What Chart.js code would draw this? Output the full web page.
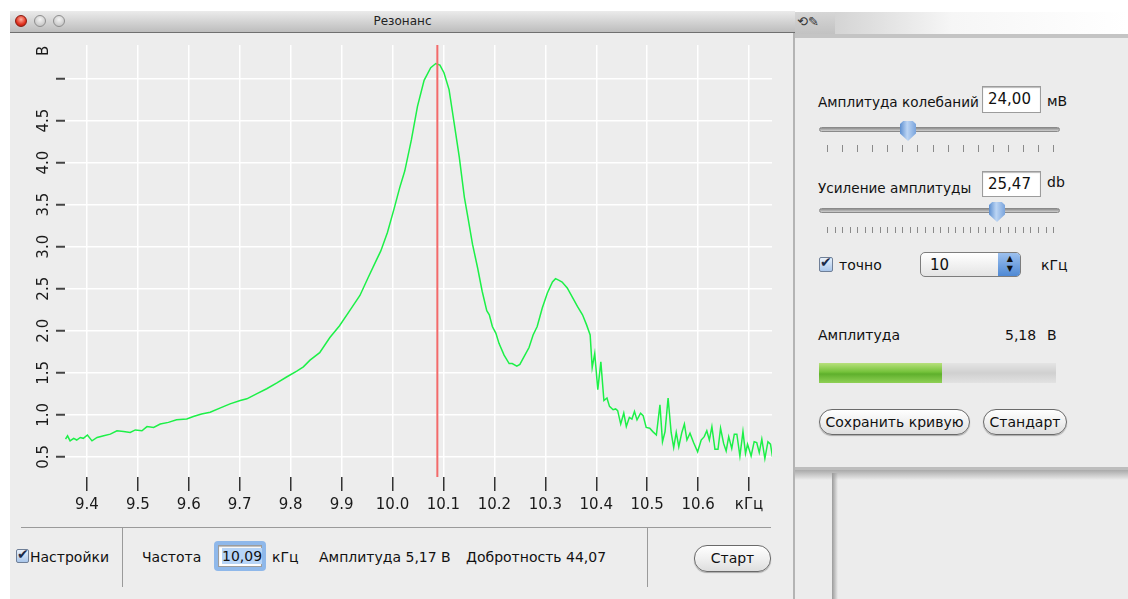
<!DOCTYPE html>
<html>
<head>
<meta charset="utf-8">
<script src="https://cdn.jsdelivr.net/npm/chart.js@4.4.0/dist/chart.umd.min.js"></script>
<style>
  body { margin: 0; width: 1128px; height: 599px; background: #fff; position: relative; overflow: hidden;
         font-family: "DejaVu Sans", sans-serif; font-size: 14px; color: #111; }
  .a { position: absolute; }
  .t { position: absolute; white-space: nowrap; line-height: 16px; }
  #win { left: 10px; top: 11px; width: 783px; height: 588px; background: #ededed; border-right: 2px solid #b4b4b4; }
  #titlebar { left: 10px; top: 11px; width: 785px; height: 21px; background: linear-gradient(#ebebeb, #bdbdbd);
              border-bottom: 1px solid #707070; text-align: center; font-size: 12px; line-height: 21px; color: #222; }
  .light { width: 12px; height: 12px; border-radius: 50%; top: 15px;
           background: radial-gradient(circle at 50% 35%, #f4f4f4, #b9b9b9); border: 1px solid #8e8e8e; box-sizing: border-box; }
  .light.red { background: radial-gradient(circle at 50% 35%, #ffb0a0, #e0301e 60%, #a01808); border-color: #8a1a10; }
  canvas { position: absolute; left: 10px; top: 33px; }
  .line { background: #9a9a9a; }
  .chk { width: 13px; height: 14px; border: 1px solid #6f7f97; border-radius: 2px; box-sizing: border-box;
         background: linear-gradient(#e9f1fb, #a9c6ea); }
  .chk::after { content: "\2714"; position: absolute; left: 0px; top: -4px; font-size: 14px; color: #1b2a48; }
  .field { background: #fff; border: 1px solid #9c9c9c; box-sizing: border-box; box-shadow: inset 0 1px 1px #bbb;
           font-size: 15px; line-height: 24px; padding-left: 5px; }
  .btn { box-sizing: border-box; border: 1px solid #6a6a6a; border-radius: 13px; background: linear-gradient(#ffffff, #f0f0f0 50%, #dedede);
         text-align: center; font-size: 14px; line-height: 24px; box-shadow: 0 1px 1px #aaa; }
  .track { height: 5px; border-radius: 3px; background: linear-gradient(#8f8f8f, #cfcfcf); border: 1px solid #8a8a8a; box-sizing: border-box; }
  .knob { width: 16px; height: 20px; background: linear-gradient(90deg, #5d8fd0, #bcd5f4 45%, #7aa4dc);
          clip-path: polygon(20% 0, 80% 0, 100% 15%, 100% 62%, 50% 100%, 0 62%, 0 15%); }
  .tick { width: 1px; background: #8a8a8a; }
  .panel { font-size: 13.6px; }
</style>
</head>
<body>
<div id="win" class="a"></div>
<div id="titlebar" class="a">Резонанс</div>
<div class="a light red" style="left:15px"></div>
<div class="a light" style="left:34px"></div>
<div class="a light" style="left:53px"></div>

<canvas id="chart" width="785" height="494"></canvas>

<!-- bottom bar -->
<div class="a line" style="left:21px; top:527px; width:750px; height:1px"></div>
<div class="a line" style="left:122px; top:527px; width:1px; height:60px"></div>
<div class="a line" style="left:647px; top:527px; width:1px; height:60px"></div>
<div class="a chk" style="left:16px; top:549px"></div>
<div class="t" style="left:30px; top:549px">Настройки</div>
<div class="t" style="left:142px; top:549px">Частота</div>
<div class="a" style="left:214px; top:541px; width:52px; height:30px; border-radius:4px; background:#8fb8ea"></div>
<div class="a field" style="left:218px; top:545px; width:44px; height:22px; padding-left:3px; line-height:20px; font-size:14px">
  <span style="background:#b7d4f6">10,09</span></div>
<div class="t" style="left:272px; top:549px">кГц</div>
<div class="t" style="left:319px; top:549px">Амплитуда 5,17 В</div>
<div class="t" style="left:466px; top:549px">Добротность 44,07</div>
<div class="a btn" style="left:694px; top:545px; width:77px; height:27px">Старт</div>

<!-- right panel -->
<div class="a" style="left:795px; top:12px; width:40px; height:22px; background:linear-gradient(#d6d6d6,#c2c2c2)"></div>
<div class="t" style="left:797px; top:14px; font-size:13px; color:#333">&#10226;&#9998;</div>
<div class="a" style="left:835px; top:12px; width:293px; height:22px; background:linear-gradient(90deg,#d4d4d4,#f6f6f6 40%,#ffffff)"></div>
<div class="a" style="left:795px; top:34px; width:333px; height:436px; background:#ececec; border-top:4px solid #c4c4c4; border-bottom:3px solid #bdbdbd; box-sizing:border-box"></div>
<div class="a" style="left:795px; top:470px; width:333px; height:129px; background:#ececec"></div>
<div class="a" style="left:795px; top:470px; width:333px; height:10px; background:linear-gradient(#a9a9a9,rgba(236,236,236,0))"></div>
<div class="a" style="left:832px; top:473px; width:6px; height:126px; background:linear-gradient(90deg,#9a9a9a,rgba(236,236,236,0))"></div>

<div class="t panel" style="left:818px; top:94px">Амплитуда колебаний</div>
<div class="a field" style="left:982px; top:86px; width:59px; height:27px">24,00</div>
<div class="t" style="left:1047px; top:93px">мВ</div>
<div class="a track" style="left:819px; top:127px; width:241px"></div>
<div class="a knob" style="left:900px; top:121px"></div>
<div id="ticks1"></div>

<div class="t panel" style="left:818px; top:180px">Усиление амплитуды</div>
<div class="a field" style="left:982px; top:171px; width:59px; height:26px">25,47</div>
<div class="t" style="left:1047px; top:174px">db</div>
<div class="a track" style="left:819px; top:208px; width:241px"></div>
<div class="a knob" style="left:989px; top:202px"></div>
<div id="ticks2"></div>

<div class="a chk" style="left:819px; top:257px; width:14px; height:15px"></div>
<div class="t" style="left:839px; top:257px">точно</div>
<div class="a" style="left:920px; top:252px; width:101px; height:25px; box-sizing:border-box; border:1px solid #7d7d7d; border-radius:5px;
     background:linear-gradient(#ffffff,#e4e4e4); overflow:hidden">
  <div class="t" style="left:9px; top:4px; font-size:15px">10</div>
  <div class="a" style="right:0; top:0; width:22px; height:23px; background:linear-gradient(#9cc0ee,#4f89d4)"></div>
  <div class="t" style="right:7px; top:1px; font-size:8px; line-height:10px; color:#111">&#9650;<br>&#9660;</div>
</div>
<div class="t" style="left:1041px; top:257px">кГц</div>

<div class="t" style="left:818px; top:327px">Амплитуда</div>
<div class="t" style="left:1005px; top:327px">5,18</div>
<div class="t" style="left:1047px; top:327px">В</div>
<div class="a" style="left:819px; top:363px; width:237px; height:20px; background:linear-gradient(#e4e4e4,#d0d0d0 50%,#e2e2e2)"></div>
<div class="a" style="left:819px; top:363px; width:123px; height:20px; background:linear-gradient(#b8e07c,#74c23a 45%,#5fb02c 55%,#8fd055)"></div>
<div class="a btn" style="left:819px; top:409px; width:151px; height:26px">Сохранить кривую</div>
<div class="a btn" style="left:983px; top:409px; width:84px; height:26px">Стандарт</div>

<script>
// measured curve: frequency (kHz) and amplitude (V)
const freqs = [
  9.358, 9.362, 9.367, 9.374, 9.380, 9.387, 9.393, 9.401, 9.410, 9.420,
  9.433, 9.446, 9.459, 9.472, 9.485, 9.495, 9.508, 9.518, 9.531, 9.544,
  9.560, 9.576, 9.596, 9.609, 9.625, 9.642, 9.661, 9.681, 9.701, 9.714,
  9.733, 9.753, 9.773, 9.792, 9.812, 9.825, 9.838, 9.857, 9.877, 9.896,
  9.916, 9.936, 9.952, 9.969, 9.977, 9.990, 10.003, 10.014, 10.024, 10.037,
  10.049, 10.062, 10.075, 10.085, 10.093, 10.101, 10.111, 10.121, 10.131, 10.141,
  10.148, 10.157, 10.167, 10.176, 10.185, 10.190, 10.196, 10.203, 10.209, 10.219,
  10.229, 10.235, 10.244, 10.250, 10.258, 10.268, 10.276, 10.284, 10.294, 10.304,
  10.314, 10.320, 10.327, 10.333, 10.343, 10.353, 10.363, 10.373, 10.381, 10.388,
  10.392, 10.397, 10.403, 10.409, 10.415, 10.421, 10.426, 10.433, 10.438, 10.442,
  10.448, 10.454, 10.459, 10.465, 10.470, 10.475, 10.480, 10.487, 10.492, 10.498,
  10.505, 10.511, 10.518, 10.525, 10.530, 10.535, 10.541, 10.547, 10.552, 10.557,
  10.562, 10.568, 10.573, 10.578, 10.584, 10.591, 10.599, 10.606, 10.612, 10.617,
  10.622, 10.627, 10.633, 10.639, 10.644, 10.650, 10.655, 10.660, 10.666, 10.671,
  10.676, 10.682, 10.688, 10.693, 10.697, 10.704, 10.710, 10.715, 10.720, 10.725,
  10.731, 10.737, 10.742, 10.746
];
const volts = [
  0.71, 0.75, 0.69, 0.72, 0.70, 0.73, 0.72, 0.76, 0.69, 0.73,
  0.75, 0.77, 0.81, 0.80, 0.79, 0.82, 0.81, 0.86, 0.85, 0.89,
  0.91, 0.94, 0.95, 0.98, 1.01, 1.03, 1.08, 1.13, 1.17, 1.19,
  1.25, 1.31, 1.38, 1.45, 1.52, 1.57, 1.65, 1.74, 1.92, 2.06,
  2.24, 2.42, 2.63, 2.85, 2.95, 3.17, 3.45, 3.70, 3.90, 4.27,
  4.67, 4.98, 5.13, 5.18, 5.16, 5.07, 4.87, 4.47, 4.07, 3.59,
  3.35, 3.03, 2.75, 2.47, 2.24, 2.19, 2.05, 1.97, 1.85, 1.71,
  1.61, 1.61, 1.58, 1.60, 1.69, 1.80, 1.95, 2.05, 2.27, 2.45,
  2.58, 2.62, 2.60, 2.58, 2.51, 2.40, 2.29, 2.19, 2.07, 1.95,
  1.56, 1.73, 1.30, 1.63, 1.17, 1.20, 1.10, 1.06, 1.07, 1.05,
  0.89, 1.02, 0.86, 0.97, 0.95, 1.04, 0.94, 1.02, 0.99, 0.85,
  0.84, 0.80, 0.76, 1.12, 0.68, 0.80, 1.20, 0.79, 0.61, 0.79,
  0.62, 0.79, 0.89, 0.70, 0.78, 0.67, 0.56, 0.70, 0.74, 0.81,
  0.70, 0.86, 0.59, 0.59, 0.84, 0.66, 0.57, 0.74, 0.60, 0.77,
  0.77, 0.51, 0.80, 0.54, 0.65, 0.51, 0.68, 0.67, 0.55, 0.71,
  0.48, 0.68, 0.65, 0.50
];

// selected frequency (red cursor)
const markerFreq = 10.088;

const xTickValues = [9.4, 9.5, 9.6, 9.7, 9.8, 9.9, 10.0, 10.1, 10.2, 10.3, 10.4, 10.5, 10.6, 10.7];
const xTickLabels = ['9.4', '9.5', '9.6', '9.7', '9.8', '9.9', '10.0', '10.1', '10.2', '10.3', '10.4', '10.5', '10.6', 'кГц'];
const yTickValues = [0.5, 1.0, 1.5, 2.0, 2.5, 3.0, 3.5, 4.0, 4.5, 5.0, 5.33];
const yTickLabels = ['0.5', '1.0', '1.5', '2.0', '2.5', '3.0', '3.5', '4.0', '4.5', '', 'В'];

const xMin = 9.357, xMax = 10.745;
const yMin = 0.26, yMax = 5.40;

// slider tick marks
function sliderTicks(id, count, top, h) {
  const box = document.getElementById(id);
  for (let i = 0; i < count; i++) {
    const d = document.createElement('div');
    d.className = 'a tick';
    d.style.left = (827 + i * 226 / (count - 1)).toFixed(1) + 'px';
    d.style.top = top + 'px';
    d.style.height = h + 'px';
    box.appendChild(d);
  }
}
sliderTicks('ticks1', 16, 145, 7);
sliderTicks('ticks2', 31, 227, 6);

const isUnitTick = ctx => ctx.tick && ctx.tick.value > 5.2;

new Chart(document.getElementById('chart'), {
  type: 'line',
  data: {
    datasets: [{
      data: [{ x: markerFreq, y: yMin }, { x: markerFreq, y: yMax }],
      borderColor: '#f36a6a',
      borderWidth: 2,
      pointRadius: 0
    }, {
      data: freqs.map((f, i) => ({ x: f, y: volts[i] })),
      borderColor: '#1cf047',
      borderWidth: 1.5,
      pointRadius: 0,
      tension: 0
    }]
  },
  options: {
    responsive: false,
    animation: false,
    layout: { padding: { left: 0, top: 12, right: 23, bottom: 0 } },
    plugins: { legend: { display: false }, tooltip: { enabled: false } },
    scales: {
      x: {
        type: 'linear',
        min: xMin,
        max: xMax,
        afterBuildTicks: s => { s.ticks = xTickValues.map(v => ({ value: v })); },
        afterFit: s => { s.height = 50; },
        border: { display: false },
        grid: { color: '#ffffff', lineWidth: 1.5, tickColor: '#333', tickWidth: 1.5, tickLength: 14 },
        ticks: {
          padding: 5,
          color: '#1a1a1a',
          font: { family: 'DejaVu Sans', size: 15 },
          callback: (v, i) => xTickLabels[i]
        }
      },
      y: {
        min: yMin,
        max: yMax,
        afterBuildTicks: s => { s.ticks = yTickValues.map(v => ({ value: v })); },
        afterFit: s => { s.width = 55; },
        border: { display: false },
        grid: {
          color: ctx => isUnitTick(ctx) ? 'rgba(0,0,0,0)' : '#ffffff',
          tickColor: ctx => isUnitTick(ctx) ? 'rgba(0,0,0,0)' : '#444',
          lineWidth: 1.5, tickWidth: 2, tickLength: 9
        },
        ticks: {
          minRotation: 90,
          maxRotation: 90,
          crossAlign: 'center',
          padding: 0,
          color: '#1a1a1a',
          font: { family: 'DejaVu Sans', size: 15 },
          callback: (v, i) => yTickLabels[i]
        }
      }
    }
  }
});
</script>
</body>
</html>
